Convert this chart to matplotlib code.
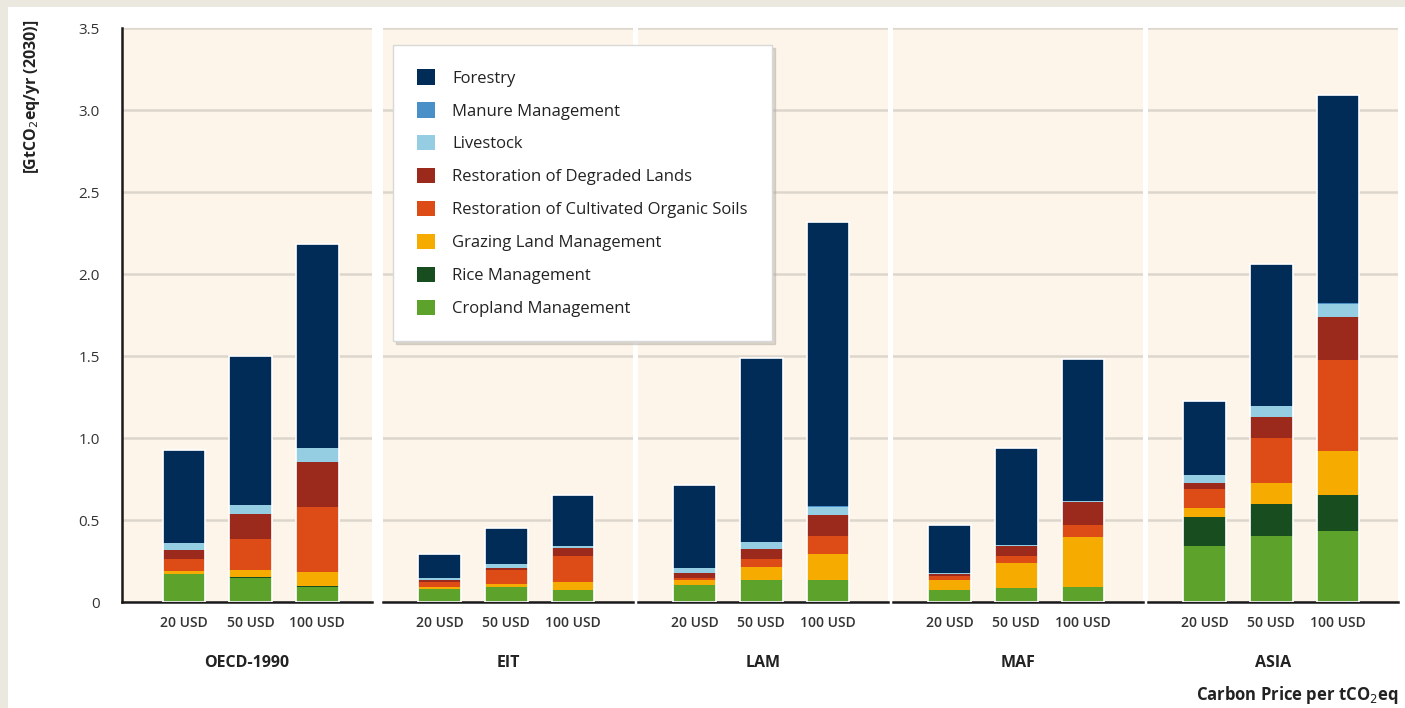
# ag_forestry_bars.py
# Stacked bars: mitigation potential by region and carbon price (2030)

import matplotlib.pyplot as plt
import matplotlib.patches as patches
import numpy as np

plt.rcParams['font.family'] = ['Open Sans', 'DejaVu Sans']

# --- Data (GtCO2eq/yr), 3 prices per region, in region order ---
regions = ['OECD-1990', 'EIT', 'LAM', 'MAF', 'ASIA']
prices = ['20 USD', '50 USD', '100 USD']

cropland  = [0.170, 0.145, 0.090,  0.082, 0.092, 0.076,  0.106, 0.132, 0.132,  0.071, 0.085, 0.089,  0.341, 0.405, 0.430]
rice      = [0.000, 0.005, 0.010,  0.000, 0.000, 0.000,  0.000, 0.000, 0.000,  0.000, 0.000, 0.000,  0.178, 0.194, 0.221]
grazing   = [0.020, 0.045, 0.085,  0.010, 0.020, 0.047,  0.026, 0.081, 0.163,  0.061, 0.152, 0.305,  0.055, 0.124, 0.268]
organic   = [0.075, 0.187, 0.392,  0.030, 0.081, 0.159,  0.014, 0.051, 0.106,  0.024, 0.041, 0.073,  0.114, 0.275, 0.554]
degraded  = [0.055, 0.152, 0.274,  0.010, 0.016, 0.045,  0.030, 0.057, 0.128,  0.014, 0.061, 0.142,  0.037, 0.130, 0.263]
livestock = [0.037, 0.057, 0.085,  0.016, 0.020, 0.014,  0.030, 0.045, 0.051,  0.004, 0.006, 0.008,  0.050, 0.066, 0.084]
manure    = [0.002, 0.002, 0.003,  0.001, 0.001, 0.001,  0.002, 0.002, 0.003,  0.001, 0.001, 0.001,  0.002, 0.003, 0.004]
forestry  = [0.567, 0.904, 1.244,  0.142, 0.224, 0.311,  0.504, 1.118, 1.732,  0.297, 0.594, 0.862,  0.450, 0.862, 1.269]

# stacking order, bottom to top
series = [
    ("Cropland Management", cropland, '#5da22a'),
    ("Rice Management", rice, '#174d1f'),
    ("Grazing Land Management", grazing, '#f5ab00'),
    ("Restoration of Cultivated Organic Soils", organic, '#dd4b16'),
    ("Restoration of Degraded Lands", degraded, '#9c2a1c'),
    ("Livestock", livestock, '#95cde3'),
    ("Manure Management", manure, '#4a90c8'),
    ("Forestry", forestry, '#002c57'),
]

# --- Layout ---
W, H = 1405, 708
fig = plt.figure(figsize=(W / 100, H / 100), dpi=100)
fig.patch.set_facecolor('white')

# beige frame strips (top and left)
fig.add_artist(patches.Rectangle((0, 1 - 7 / H), 1, 7 / H, transform=fig.transFigure,
                                 facecolor='#ebe8df', edgecolor='none'))
fig.add_artist(patches.Rectangle((0, 0), 8 / W, 1, transform=fig.transFigure,
                                 facecolor='#ebe8df', edgecolor='none'))

panel_left = [122, 383, 638, 893, 1148]
panel_w = 250
y_bot, y_top = 602, 28
x = np.arange(3)

axes = []
for i, reg in enumerate(regions):
    ax = fig.add_axes([panel_left[i] / W, (H - y_bot) / H, panel_w / W, (y_bot - y_top) / H])
    ax.set_facecolor('#fdf5ea')
    # first panel starts at the axis line, so its bars sit a little further in
    ax.set_xlim(-0.93 if i == 0 else -0.85, 2.82 if i == 0 else 2.9)
    ax.set_ylim(0, 3.5)
    ax.set_yticks(np.arange(0, 3.51, 0.5))
    ax.grid(axis='y', color='#ddd6cc', lw=1.8, zorder=0)
    ax.set_axisbelow(True)

    bottom = np.zeros(3)
    for name, vals, col in series:
        v = np.array(vals[3 * i:3 * i + 3])
        ax.bar(x, v, 0.64, bottom=bottom, color=col, label=name, zorder=2, lw=0)
        bottom += v
    # thin white outline round each stack
    ax.bar(x, bottom, 0.64, fill=False, edgecolor='white', lw=1.2, zorder=3)

    for s in ['top', 'right']:
        ax.spines[s].set_visible(False)
    ax.spines['bottom'].set_color('#1a1a1a')
    ax.spines['bottom'].set_linewidth(1.8)
    if i == 0:
        ax.spines['left'].set_color('#1a1a1a')
        ax.spines['left'].set_linewidth(1.8)
        ax.set_yticklabels(['0', '0.5', '1.0', '1.5', '2.0', '2.5', '3.0', '3.5'])
        ax.tick_params(axis='y', length=0, pad=16, labelsize=11, labelcolor='#333333')
    else:
        ax.spines['left'].set_visible(False)
        ax.tick_params(axis='y', length=0, labelleft=False)

    ax.set_xticks(x)
    ax.set_xticklabels(prices, fontsize=10, fontweight='semibold', color='#333333')
    ax.tick_params(axis='x', length=0, pad=10)
    ax.set_xlabel(reg, fontsize=11.5, fontweight='bold', color='#222222', labelpad=18)
    axes.append(ax)

# legend, reversed so Forestry sits on top
handles, labels = axes[0].get_legend_handles_labels()
leg = fig.legend(handles[::-1], labels[::-1], loc='upper left',
                 bbox_to_anchor=(393 / W, 1 - 45 / H), frameon=True, fancybox=False,
                 shadow={'color': '#b0aca4', 'alpha': 0.45},
                 fontsize=12, handlelength=1.05, handleheight=1.05, handletextpad=1.05,
                 labelspacing=0.93, borderpad=1.45, borderaxespad=0)
leg.get_frame().set_edgecolor('#d8d8d8')
leg.get_frame().set_linewidth(1.0)
leg.get_frame().set_alpha(1)
for t in leg.get_texts():
    t.set_color('#222222')

fig.text(32 / W, 1 - 20 / H, r'[GtCO$_2$eq/yr (2030)]', rotation=90, ha='center', va='top',
         fontsize=11.5, fontweight='bold', color='#222222')
fig.text(1398 / W, 1 - 695 / H, r'Carbon Price per tCO$_2$eq', ha='right', va='center',
         fontsize=12, fontweight='bold', color='#222222')

fig.savefig('out.png', dpi=100)
